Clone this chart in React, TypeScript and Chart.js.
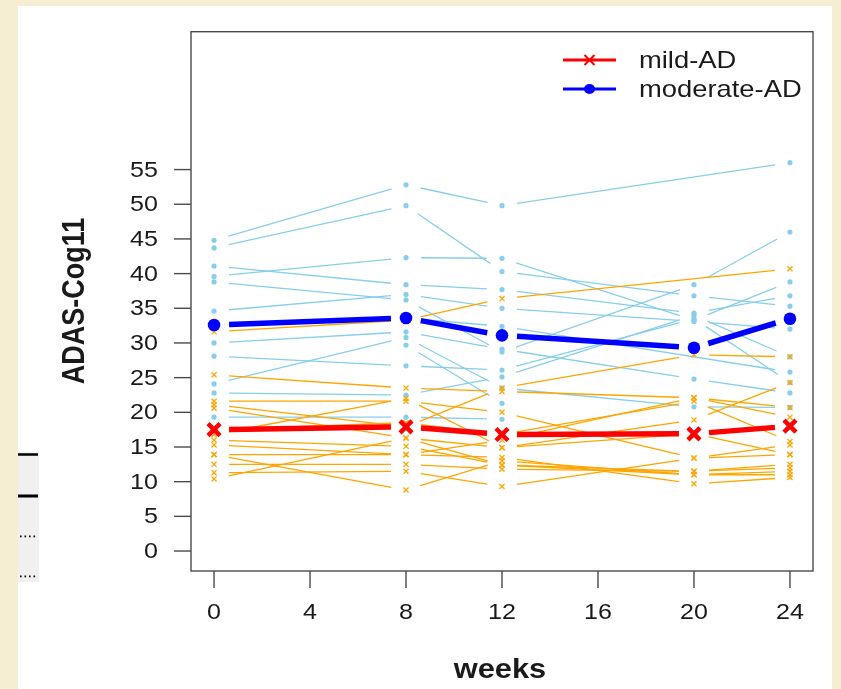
import React, { useEffect, useRef } from "react";
import { Chart, registerables } from "chart.js";

Chart.register(...registerables);

// ---------- data ----------
const weeks = [0, 8, 12, 20, 24];
const xTicks = [0, 4, 8, 12, 16, 20, 24];
const yTicks = [0, 5, 10, 15, 20, 25, 30, 35, 40, 45, 50, 55];
const legendLabels = ["mild-AD", "moderate-AD"];
const xTitle = "weeks";
const yTitle = "ADAS-Cog11";

const mildMean = [17.5, 17.9, 16.8, 16.9, 18.0];
const moderateMean = [32.6, 33.6, 31.1, 29.3, 33.5];

// each row: values at weeks 0, 8, 12, 20, 24 (null = missing visit)
const mildSubjects: (number | null)[][] = [
  [25.4, 23.5, 23.0, 22.1, 20.7],
  [21.6, 21.6, 20.0, 13.4, 13.9],
  [21.1, 17.9, 23.5, 28.3, 28.0],
  [20.6, 16.3, 14.9, 18.9, 24.3],
  [17.5, 18.5, 16.8, 21.6, 15.8],
  [31.6, 33.3, 36.4, null, 40.7],
  [16.0, 15.1, 12.4, 11.5, 12.5],
  [15.3, 13.9, 16.0, 22.1, 19.3],
  [13.9, 8.8, 13.0, 11.0, 11.0],
  [13.9, 13.9, 13.5, 9.7, 10.6],
  [12.5, 12.5, 11.8, 11.5, 12.0],
  [11.3, 11.5, 9.3, 13.4, 15.3],
  [10.4, 16.3, 12.4, 11.0, 11.5],
  [16.8, 22.0, 14.9, 16.9, 13.9],
];

const moderateSubjects: (number | null)[][] = [
  [44.8, 52.8, 49.8, null, 56.0],
  [43.7, 49.8, 40.3, 36.8, 35.3],
  [41.1, 38.4, 37.7, 34.3, 36.8],
  [39.6, 42.3, 42.2, 33.3, 38.8],
  [38.8, 36.2, 28.7, 38.4, 46.0],
  [34.6, 37.0, 35.0, 33.1, 32.0],
  [32.4, 33.6, 32.4, null, 25.8],
  [30.0, 31.6, 29.1, 24.8, 22.8],
  [28.1, 26.7, 26.1, 33.5, 24.3],
  [24.1, 30.8, 23.5, 20.8, 20.7],
  [22.8, 22.5, 25.1, 34.0, 28.0],
  [19.3, 19.3, 19.0, null, null],
  [null, 29.7, 21.3, null, null],
];

// ---------- style ----------
const SX = 1.14; // horizontal text stretch of the original picture
const FONT = '"Liberation Sans", Arial, sans-serif';
const ORANGE = "#FFA500";
const SKY = "#87CEEB";
const RED = "#FF0000";
const BLUE = "#0000FF";
const INK = "#1a1a1a";

function stretchedText(
  ctx: CanvasRenderingContext2D,
  text: string,
  x: number,
  y: number,
  font: string,
  align: CanvasTextAlign,
  baseline: CanvasTextBaseline,
  rot = 0
) {
  ctx.save();
  ctx.translate(x, y);
  ctx.scale(SX, 1);
  if (rot) ctx.rotate(rot);
  ctx.font = font;
  ctx.fillStyle = INK;
  ctx.textAlign = align;
  ctx.textBaseline = baseline;
  ctx.fillText(text, 0, 0);
  ctx.restore();
}

const GAP = 13.2;

const pagePlugin = {
  id: "pagePlugin",
  beforeDraw(chart: any) {
    const ctx: CanvasRenderingContext2D = chart.ctx;
    ctx.save();
    ctx.fillStyle = "#F5EED3";
    ctx.fillRect(0, 0, chart.width, chart.height);
    ctx.fillStyle = "#FFFFFF";
    ctx.fillRect(18, 6, 814, chart.height - 6);
    // left fragment of another element
    ctx.fillStyle = "#F0F0F0";
    ctx.fillRect(18, 452, 21, 130);
    ctx.strokeStyle = "#000";
    ctx.lineWidth = 2.5;
    ctx.beginPath();
    ctx.moveTo(18, 454.5);
    ctx.lineTo(38, 454.5);
    ctx.stroke();
    ctx.lineWidth = 3;
    ctx.beginPath();
    ctx.moveTo(18, 496);
    ctx.lineTo(38, 496);
    ctx.stroke();
    ctx.fillStyle = "#000";
    for (const yy of [536.5, 576.5]) {
      for (let xx = 20; xx < 38; xx += 4.5) ctx.fillRect(xx, yy - 1, 1.6, 1.8);
    }
    ctx.restore();
  },
  beforeDatasetsDraw(chart: any) {
    const ctx: CanvasRenderingContext2D = chart.ctx;
    const a = chart.chartArea;
    ctx.save();
    ctx.strokeStyle = "#4a4a4a";
    ctx.lineWidth = 1.4;
    ctx.strokeRect(a.left, a.top, a.right - a.left, a.bottom - a.top);
    ctx.restore();
  },
  beforeDatasetDraw(chart: any, args: any) {
    const ds = chart.data.datasets[args.index];
    if (!ds.gapColor) return;
    const ctx: CanvasRenderingContext2D = chart.ctx;
    const pts = args.meta.data.filter((p: any) => !p.skip && p.y != null && !isNaN(p.y));
    ctx.save();
    ctx.strokeStyle = ds.gapColor;
    ctx.lineWidth = ds.gapWidth;
    ctx.lineCap = "butt";
    for (let i = 0; i < pts.length - 1; i++) {
      const p = pts[i];
      const q = pts[i + 1];
      const dx = q.x - p.x;
      const dy = q.y - p.y;
      const len = Math.hypot(dx / SX, dy);
      if (len <= 2 * GAP) continue;
      const t = GAP / len;
      ctx.beginPath();
      ctx.moveTo(p.x + dx * t, p.y + dy * t);
      ctx.lineTo(q.x - dx * t, q.y - dy * t);
      ctx.stroke();
    }
    ctx.restore();
  },
  afterDraw(chart: any) {
    const ctx: CanvasRenderingContext2D = chart.ctx;
    const a = chart.chartArea;
    const xs = chart.scales.x;
    const ys = chart.scales.y;
    ctx.save();
    ctx.strokeStyle = "#4a4a4a";
    ctx.lineWidth = 1.4;
    // y ticks
    for (const v of yTicks) {
      const y = ys.getPixelForValue(v);
      ctx.beginPath();
      ctx.moveTo(a.left - 17, y);
      ctx.lineTo(a.left, y);
      ctx.stroke();
      stretchedText(ctx, String(v), a.left - 33, y + 1, `22px ${FONT}`, "right", "middle");
    }
    // x ticks
    for (const v of xTicks) {
      const x = xs.getPixelForValue(v);
      ctx.beginPath();
      ctx.moveTo(x, a.bottom);
      ctx.lineTo(x, a.bottom + 17);
      ctx.stroke();
      stretchedText(ctx, String(v), x, a.bottom + 42, `22px ${FONT}`, "center", "middle");
    }
    // axis titles
    stretchedText(ctx, xTitle, (xs.getPixelForValue(0) + xs.getPixelForValue(24)) / 2 - 2, 678, `bold 27px ${FONT}`, "center", "alphabetic");
    stretchedText(ctx, yTitle, 76, 301, `bold 27px ${FONT}`, "center", "middle", -Math.PI / 2);

    // legend
    const lx0 = 563;
    const lx1 = 616;
    const lxm = (lx0 + lx1) / 2;
    const rows = [
      { y: 60, color: RED, label: legendLabels[0], marker: "x" },
      { y: 89, color: BLUE, label: legendLabels[1], marker: "o" },
    ];
    for (const r of rows) {
      ctx.strokeStyle = r.color;
      ctx.fillStyle = r.color;
      ctx.lineWidth = 3;
      ctx.beginPath();
      ctx.moveTo(lx0, r.y);
      ctx.lineTo(lx1, r.y);
      ctx.stroke();
      if (r.marker === "x") {
        ctx.lineWidth = 2;
        ctx.beginPath();
        ctx.moveTo(lxm - 5, r.y - 5);
        ctx.lineTo(lxm + 5, r.y + 5);
        ctx.moveTo(lxm + 5, r.y - 5);
        ctx.lineTo(lxm - 5, r.y + 5);
        ctx.stroke();
      } else {
        ctx.beginPath();
        ctx.ellipse(lxm, r.y, 5.5, 5, 0, 0, Math.PI * 2);
        ctx.fill();
      }
      stretchedText(ctx, r.label, 639, r.y + 1, `24px ${FONT}`, "left", "middle");
    }
    ctx.restore();
  },
};

function subjectDataset(vals: (number | null)[], mild: boolean) {
  return {
    data: weeks.map((w, i) => ({ x: w, y: vals[i] })),
    showLine: false,
    pointStyle: mild ? "crossRot" : "circle",
    pointRadius: mild ? 3.6 : 2.6,
    pointBorderWidth: mild ? 1.3 : 0,
    borderColor: mild ? ORANGE : SKY,
    backgroundColor: mild ? ORANGE : SKY,
    pointBackgroundColor: mild ? ORANGE : SKY,
    pointBorderColor: mild ? ORANGE : SKY,
    gapColor: mild ? ORANGE : SKY,
    gapWidth: 1.3,
  };
}

export default function App() {
  const ref = useRef<HTMLCanvasElement | null>(null);
  useEffect(() => {
    if (!ref.current) return;
    const meanRed = {
      data: weeks.map((w, i) => ({ x: w, y: mildMean[i] })),
      showLine: false,
      pointStyle: "crossRot",
      pointRadius: 8.5,
      pointBorderWidth: 4.5,
      borderColor: RED,
      backgroundColor: RED,
      pointBorderColor: RED,
      pointBackgroundColor: RED,
      gapColor: RED,
      gapWidth: 5.5,
    };
    const meanBlue = {
      data: weeks.map((w, i) => ({ x: w, y: moderateMean[i] })),
      showLine: false,
      pointStyle: "circle",
      pointRadius: 6.3,
      pointBorderWidth: 0,
      borderColor: BLUE,
      backgroundColor: BLUE,
      pointBorderColor: BLUE,
      pointBackgroundColor: BLUE,
      gapColor: BLUE,
      gapWidth: 5.5,
    };
    // dataset 0 is drawn last (on top)
    const datasets: any[] = [
      meanRed,
      meanBlue,
      ...mildSubjects.map((s) => subjectDataset(s, true)),
      ...moderateSubjects.map((s) => subjectDataset(s, false)),
    ];
    const chart = new Chart(ref.current, {
      type: "line",
      data: { datasets },
      options: {
        responsive: false,
        devicePixelRatio: 1,
        animation: false,
        events: [],
        layout: { padding: { left: 191, top: 31.7, right: 28, bottom: 118 } },
        plugins: { legend: { display: false }, tooltip: { enabled: false } },
        scales: {
          x: { type: "linear", display: false, min: -0.96, max: 24.96 },
          y: { type: "linear", display: false, min: -2.88, max: 74.88 },
        },
      },
      plugins: [pagePlugin],
    } as any);
    return () => chart.destroy();
  }, []);
  return (
    <div style={{ position: "absolute", left: 0, top: 0, width: 841, height: 689 }}>
      <canvas ref={ref} width={841} height={689} style={{ display: "block", width: 841, height: 689 }} />
    </div>
  );
}
